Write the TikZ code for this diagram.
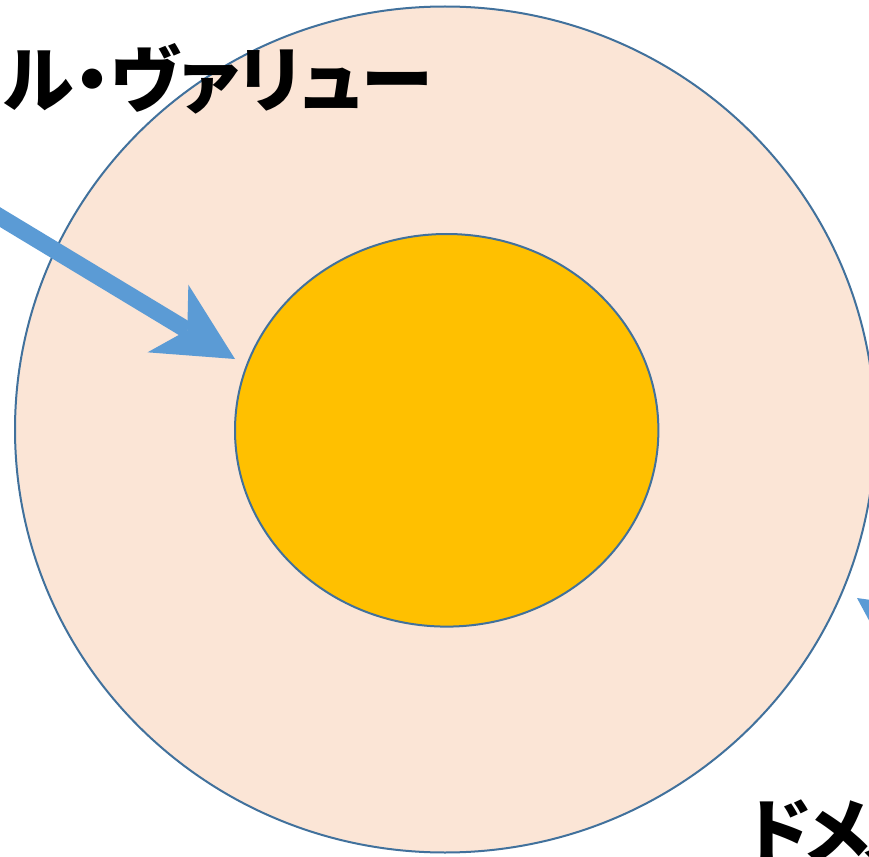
\documentclass[tikz,border=0pt]{standalone}
\usepackage{fontspec}
\newfontfamily\jpfont{Noto Sans CJK JP}[RawFeature=+palt]
\usetikzlibrary{arrows.meta}
\definecolor{ringfill}{HTML}{FBE5D6}
\definecolor{corefill}{HTML}{FFC000}
\definecolor{edgeblue}{HTML}{41719C}
\definecolor{arrowblue}{HTML}{5B9BD5}
\tikzset{
  valuearrow/.style={arrowblue, line width=5.1mm,
    -{Stealth[length=23.5mm, width=23.7mm, inset=6.8mm, line width=0pt]}},
  valuelabel/.style={inner sep=0pt, font=\jpfont\bfseries\fontsize{61.5pt}{70pt}\selectfont}
}
\begin{document}
\begin{tikzpicture}[x=0.3mm, y=-0.3mm]
            \useasboundingbox (0,0) rectangle (869,857);
            \fill[white] (0,0) rectangle (869,857);
            \draw[edgeblue, line width=0.6mm, fill=ringfill] (445,429.5) ellipse [x radius=430, y radius=423];
            \draw[edgeblue, line width=0.6mm, fill=corefill] (446.7,430.3) ellipse [x radius=211.7, y radius=196.3];
            \coordinate (globaltail) at (-30,199);
            \coordinate (globaltip) at (235,359);
            \coordinate (domestictail) at (1021,713);
            \coordinate (domestictip) at (857,598);
            \draw[valuearrow] (globaltail) -- (globaltip);
            \draw[valuearrow] (domestictail) -- (domestictip);
            \node[valuelabel, anchor=base east] (global) at (432,107) {ル・ヴァリュー};
            \node[valuelabel, anchor=base west] (domestic) at (747,858) {ド\kern-4ptメ\kern-6ptス};
        \end{tikzpicture}
\end{document}
